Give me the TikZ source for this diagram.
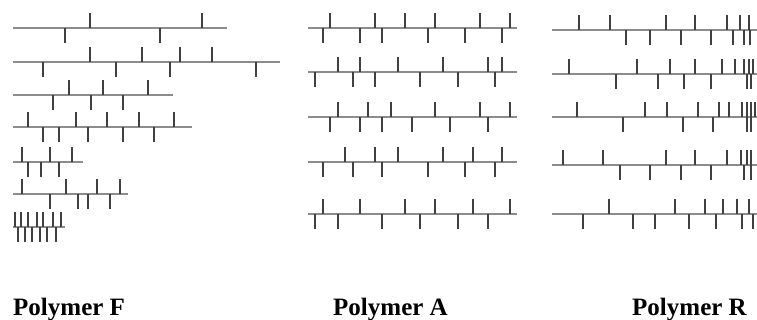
\documentclass[tikz,border=0pt]{standalone}
\usepackage{fontspec}
\setmainfont{Liberation Serif}
\newcommand\polychain[5]{%
  \draw[chainline] (#2,#1) -- (#3,#1);
  \foreach \t in {#4} \draw[tickmark] (\t,#1) -- ++(0,-15);
  \foreach \t in {#5} \draw[tickmark] (\t,#1) -- ++(0,15);
}
\begin{document}
\begin{tikzpicture}[x=1pt,y=-1pt,
  chainline/.style={draw=black!45,line width=2pt},
  tickmark/.style={draw=black!75,line width=2.3pt},
  lab/.style={anchor=base west,inner sep=0pt,font=\bfseries\fontsize{25}{25}\selectfont}]
\useasboundingbox (0,0) rectangle (757,320);
% Polymer F
\polychain{28}{13}{227}{90,202}{65,160}
\polychain{62}{13}{280}{90,142,180,212}{43,116,170,256}
\polychain{95}{13}{173}{69,103,148}{53,91,123}
\polychain{127}{13}{192}{28,76,107,139,174}{43,59,88,123,154}
\polychain{162}{13}{83}{22,50,72}{28,41,59}
\polychain{194}{13}{128}{22,66,97,120}{50,78,88,110}
\polychain{227}{13}{65}{15,21,28,37,43,53,61}{18,25,32,40,47,56}
% Polymer A
\polychain{28}{308}{517}{330,375,405,435,480,510}{323,360,382,428,465,502}
\polychain{72}{308}{517}{338,360,398,443,488,502}{315,353,375,420,458,495}
\polychain{117}{308}{517}{338,368,391,435,480,510}{330,360,382,412,450,488}
\polychain{162}{308}{517}{345,375,398,443,473,502}{323,353,382,428,465,495}
\polychain{214}{308}{517}{323,360,405,435,473,510}{315,338,382,420,458,488}
% Polymer R
\polychain{30}{552}{757}{579,610,666,695,727,740,749}{626,650,681,711,733,744,750}
\polychain{74}{552}{757}{569,637,670,695,722,735,744,749,753}{616,658,684,711,747,751}
\polychain{117}{552}{757}{577,645,667,698,719,729,742,747,751,755}{623,683,713,747,751}
\polychain{165}{552}{757}{563,603,666,695,727,741,747,751}{620,650,681,711,744,751}
\polychain{214}{552}{757}{609,675,705,723,737,749}{583,633,655,689,716,742,753}
% labels
\node[lab] (labF) at (13,315) {Polymer F};
\node[lab] (labA) at (333,315) {Polymer A};
\node[lab] (labR) at (632,315) {Polymer R};
\end{tikzpicture}
\end{document}
